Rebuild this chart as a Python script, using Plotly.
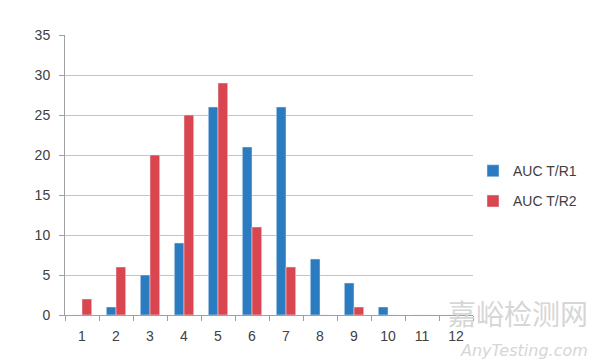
import plotly.graph_objects as go

categories = [str(i) for i in range(1, 13)]
auc_tr1 = [0, 1, 5, 9, 26, 21, 26, 7, 4, 1, 0, 0]
auc_tr2 = [2, 6, 20, 25, 29, 11, 6, 0, 1, 0, 0, 0]
y_ticks = [0, 5, 10, 15, 20, 25, 30, 35]

blue = "#2B7BC0"
red = "#D9464F"

fig = go.Figure()
fig.add_trace(go.Bar(x=categories, y=auc_tr1, name="AUC T/R1", marker_color=blue, legendgroup="a"))
fig.add_trace(go.Bar(x=categories, y=auc_tr2, name="AUC T/R2", marker_color=red, legendgroup="b"))

font_fam = "Liberation Sans, Arial, sans-serif"
fig.update_layout(
    width=600, height=363,
    margin=dict(l=57, r=135, t=27, b=56),
    plot_bgcolor="white", paper_bgcolor="white",
    barmode="group", bargap=0.43, bargroupgap=0,
    font=dict(family=font_fam, size=14, color="#404040"),
    showlegend=True,
    legend=dict(x=1.0, y=0.46, xanchor="left", yanchor="middle",
                font=dict(size=14, color="#404040"), itemwidth=30,
                tracegroupgap=9),
    xaxis=dict(type="category", showline=True, linecolor="#A0A0A0", linewidth=1,
               ticks="outside", tickson="boundaries", ticklen=5, tickcolor="#A0A0A0",
               showgrid=False, tickfont=dict(size=14), ticklabelstandoff=8),
    yaxis=dict(range=[0, 35], tickvals=y_ticks, showline=True, linecolor="#A0A0A0",
               linewidth=1, ticks="outside", ticklen=5, tickcolor="#A0A0A0",
               gridcolor="#C4C4C4", gridwidth=1, zeroline=False,
               tickfont=dict(size=14), ticklabelstandoff=6),
)

fig.add_annotation(text="嘉峪检测网", xref="paper", yref="paper", x=1.287, y=0.007,
                   xanchor="right", yanchor="middle", showarrow=False,
                   font=dict(family="Noto Sans CJK SC", size=28, color="#D6D6D6"))
fig.add_annotation(text="<i>AnyTesting.com</i>", xref="paper", yref="paper", x=1.287, y=-0.125,
                   xanchor="right", yanchor="middle", showarrow=False,
                   font=dict(family="DejaVu Sans", size=16, color="#D6D6D6"))

fig.write_html("out.html")
